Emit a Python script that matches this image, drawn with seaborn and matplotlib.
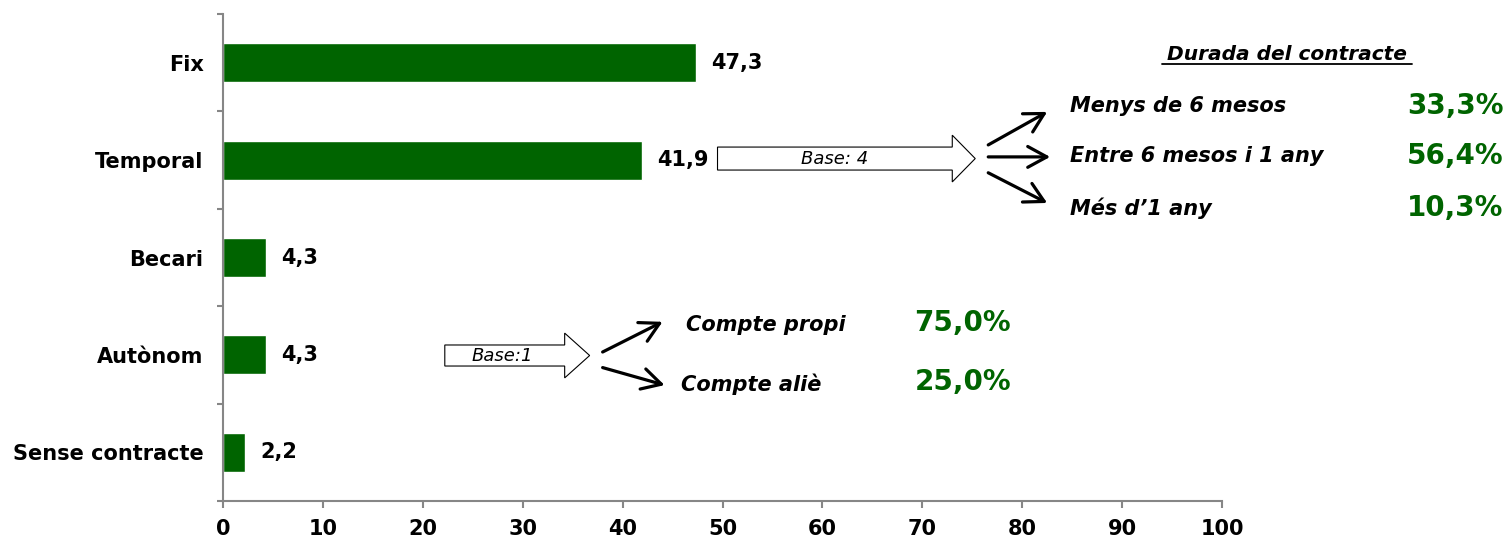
import numpy as np
import pandas as pd
import seaborn as sns
import matplotlib.pyplot as plt
import matplotlib.patches as mpatches
from matplotlib.lines import Line2D

# dades
categories = ["Fix", "Temporal", "Becari", "Autònom", "Sense contracte"]
values = [47.3, 41.9, 4.3, 4.3, 2.2]

durada_labels = ["Menys de 6 mesos", "Entre 6 mesos i 1 any", "Més d’1 any"]
durada_values = [33.3, 56.4, 10.3]

autonom_labels = ["Compte propi", "Compte aliè"]
autonom_values = [75.0, 25.0]

xticks = [0, 10, 20, 30, 40, 50, 60, 70, 80, 90, 100]

green = "#006400"
grey = "#868686"

sns.set_theme(style="white")
plt.rcParams["font.family"] = ["DejaVu Sans"]
plt.rcParams["text.color"] = "black"
plt.rcParams["xtick.labelcolor"] = "black"
plt.rcParams["ytick.labelcolor"] = "black"

df = pd.DataFrame({"cat": categories, "val": values})

fig = plt.figure(figsize=(15.09, 5.43), dpi=100)
ax = fig.add_axes([0.1478, 0.0773, 0.6620, 0.8969])

sns.barplot(data=df, x="val", y="cat", color=green, width=0.4,
            saturation=1, orient="h", ax=ax)

ax.set_xlim(0, 100)
ax.set_ylim(4.5, -0.5)
ax.set_xticks(xticks)
ax.set_xticklabels([str(t) for t in xticks], fontsize=15, fontweight="bold",
                   color="black")
ax.set_yticks(range(len(categories)))
ax.set_yticklabels(categories, fontsize=15, fontweight="bold", color="black")
ax.set_yticks(np.arange(-0.5, len(categories), 1), minor=True)
ax.set_xlabel("")
ax.set_ylabel("")

for s in ["top", "right"]:
    ax.spines[s].set_visible(False)
for s in ["left", "bottom"]:
    ax.spines[s].set_color(grey)
    ax.spines[s].set_linewidth(1.5)

ax.tick_params(axis="y", which="major", length=0, pad=14)
ax.tick_params(axis="y", which="minor", left=True, length=4.5, width=1.5, color=grey)
ax.tick_params(axis="x", which="major", bottom=True, length=5, width=1.5,
               color=grey, pad=8)

# etiquetes de valor
labels = [f"{v:.1f}".replace(".", ",") for v in values]
ax.bar_label(ax.containers[0], labels=labels, padding=11,
             fontsize=15, fontweight="bold", color="black")

# fletxes de bloc
arr1 = mpatches.FancyArrow(49.5, 0.984, 25.8, 0, width=0.236, head_width=0.48,
                           head_length=2.3, length_includes_head=True,
                           fc="white", ec="black", lw=0.8, clip_on=False)
ax.add_patch(arr1)
ax.text(61.2, 0.984, "Base: 4", style="italic", fontsize=13,
        ha="center", va="center")

arr2 = mpatches.FancyArrow(22.2, 3.006, 14.5, 0, width=0.216, head_width=0.46,
                           head_length=2.5, length_includes_head=True,
                           fc="white", ec="black", lw=0.8, clip_on=False)
ax.add_patch(arr2)
ax.text(28.0, 3.006, "Base:1", style="italic", fontsize=13,
        ha="center", va="center")

# fletxes petites
aprops = dict(arrowstyle="->,head_length=0.55,head_width=0.3",
              lw=2.3, color="black", mutation_scale=25, shrinkA=0, shrinkB=0)
for start, end in [((76.6, 0.844), (82.5, 0.505)),
                   ((76.6, 0.967), (82.8, 0.967)),
                   ((76.6, 1.13), (82.5, 1.44)),
                   ((38.0, 2.97), (44.0, 2.66)),
                   ((38.0, 3.13), (44.2, 3.31))]:
    ax.annotate("", xy=end, xytext=start, arrowprops=aprops, annotation_clip=False)

# durada del contracte
ax.text(106.5, -0.08, "Durada del contracte", style="italic", fontweight="bold",
        fontsize=14.5, ha="center", va="center", clip_on=False)
ax.add_line(Line2D([94.0, 119.0], [0.013, 0.013], color="black", lw=1.3,
                   clip_on=False))

for lab, val, y in zip(durada_labels, durada_values, [0.44, 0.96, 1.49]):
    ax.text(84.8, y, lab, style="italic", fontweight="bold", fontsize=15,
            ha="left", va="center", clip_on=False)
    ax.text(128.2, y, f"{val:.1f}%".replace(".", ","), fontweight="bold",
            fontsize=20, color=green, ha="right", va="center", clip_on=False)

for lab, val, xl, y in zip(autonom_labels, autonom_values, [46.3, 45.8], [2.69, 3.30]):
    ax.text(xl, y, lab, style="italic", fontweight="bold", fontsize=15,
            ha="left", va="center", clip_on=False)
    ax.text(69.2, y - 0.02, f"{val:.1f}%".replace(".", ","), fontweight="bold",
            fontsize=20, color=green, ha="left", va="center", clip_on=False)

fig.savefig("out.png", dpi=100)
